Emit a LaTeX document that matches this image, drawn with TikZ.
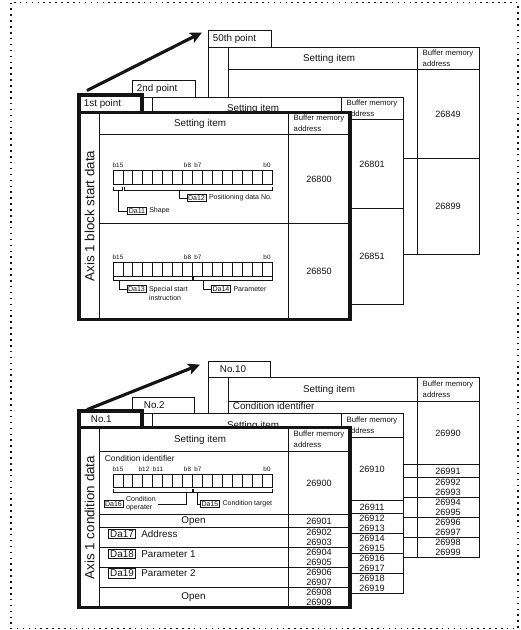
\documentclass[tikz,border=0pt]{standalone}
\usepackage{fontspec}
\setmainfont{Liberation Sans}
\usetikzlibrary{arrows.meta,positioning}
\definecolor{Ink}{HTML}{141414}
\definecolor{Paper}{HTML}{FFFFFF}
\tikzset{
  frame/.style={draw=Ink,fill=Paper,line width=0.7pt},
  heavy/.style={draw=Ink,fill=Paper,line width=2.8pt},
  bitline/.style={draw=Ink,line width=0.55pt},
  f7/.style={font=\fontsize{7}{8.4}\selectfont},
  f5/.style={font=\fontsize{5}{6.4}\selectfont},
  f45/.style={font=\fontsize{4.5}{5}\selectfont},
  hdr/.style={font=\fontsize{5.5}{7.5}\selectfont,align=left},
  num/.style={font=\fontsize{6.5}{7}\selectfont,align=center},
  axis/.style={font=\fontsize{9.5}{11}\selectfont,rotate=90},
  dabox/.style={draw=Ink,line width=0.6pt,f5,inner xsep=0.8pt,inner ysep=1pt},
  dabig/.style={draw=Ink,line width=0.8pt,f7,inner xsep=1.2pt,inner ysep=1pt},
  arw/.style={draw=Ink,line width=2.2pt,-{Stealth[length=8.5pt,width=8pt,inset=2pt]}},
  dotframe/.style={draw=Ink,line width=1.1pt,dash pattern=on 1.1pt off 3.1pt}
}
\begin{document}
\begin{tikzpicture}[x=0.25mm,y=-0.25mm,line width=0.7pt,color=Ink,every node/.style={f7,inner sep=1pt}]
\fill[Paper] (0,0) rectangle (520,630);
\draw[dotframe] (11,2.5) rectangle (518,628.5);
% block start data, back sheets
\foreach \dx/\dy/\nm/\tb/\ta/\tc in {129/-65/u50/50th point/26849/26899,53/-15/u2/2nd point/26801/26851}{
\begin{scope}[shift={({79+\dx},{112.5+\dy})}]
\draw[frame] (0,-17) rectangle (63,0);
\node[anchor=west] (\nm) at (3,-8.5) {\tb};
\draw[frame] (0,0) rectangle (271,207);
\draw (20,0) -- (20,207) (20,22) -- (271,22) (209,0) -- (209,207) (20,111) -- (271,111);
\node (\nm-h) at (121,11) {Setting item};
\node[hdr] (\nm-b) at (240,11) {Buffer memory\\address};
\node[num] (\nm-a) at (240,66.5) {\ta};
\node[num] (\nm-c) at (240,159) {\tc};
\end{scope}}
% block start data, front sheet
\draw[heavy] (79,95) rectangle (142,112.5);
\node[anchor=west] (u1) at (82,104) {1st point};
\draw[heavy] (79,112.5) rectangle (350,319.5);
\draw (99.5,112.5) -- (99.5,319.5) (99.5,134.5) -- (350,134.5) (288,112.5) -- (288,319.5) (99.5,223.5) -- (350,223.5);
\node[axis] (u1-ax) at (89.5,216) {Axis 1 block start data};
\node (u1-h) at (200,123.5) {Setting item};
\node[hdr] (u1-b) at (319,123.5) {Buffer memory\\address};
\node[num] (u1-a) at (319,179) {26800};
\node[num] (u1-c) at (319,271.5) {26850};
% condition data, back sheets
\foreach \dx/\dy/\nm/\tb/\base/\ci in {129/-50/l10/No.10/26990/Condition identifier,53/-14/l2/No.2/26910/}{
\begin{scope}[shift={({79+\dx},{427.5+\dy})}]
\draw[frame] (0,-16) rectangle (62,0);
\node[anchor=west] (\nm) at (10,-8) {\tb};
\draw[frame] (0,0) rectangle (271,180);
\draw (20,0) -- (20,180) (20,24) -- (271,24) (209,0) -- (209,180);
\foreach \yy in {87,100,120,140,160} \draw (20,\yy) -- (271,\yy);
\node (\nm-h) at (121,12) {Setting item};
\node[hdr] (\nm-b) at (240,12) {Buffer memory\\address};
\node[anchor=west] (\nm-i) at (23,28.5) {\ci};
\node[num] (\nm-a) at (240,55.5) {\base};
\node[num] (\nm-o) at (240,93.5) {\the\numexpr\base+1\relax};
\foreach \off/\yy in {2/110,4/130,6/150,8/170}{
  \node[num] (\nm-r\off) at (240,\yy) {\the\numexpr\base+\off\relax\\\the\numexpr\base+\off+1\relax};}
\end{scope}}
% condition data, front sheet
\draw[heavy] (79,411) rectangle (142,427.5);
\node[anchor=west] (l1) at (89,419.5) {No.1};
\draw[heavy] (79,427.5) rectangle (350,607.5);
\draw (99.5,427.5) -- (99.5,607.5) (99.5,451.5) -- (350,451.5) (288,427.5) -- (288,607.5);
\foreach \yy in {514.5,527.5,547.5,567.5,587.5} \draw (99.5,\yy) -- (350,\yy);
\node[axis] (l1-ax) at (89.5,517.5) {Axis 1 condition data};
\node (l1-h) at (200,439.5) {Setting item};
\node[hdr] (l1-b) at (319,439.5) {Buffer memory\\address};
\node[font=\fontsize{6}{7}\selectfont,anchor=west] (l1-i) at (103,458) {Condition identifier};
% bit fields
\foreach \y/\h in {170/14,262/14,474.5/12.5}{
  \draw[bitline] (113,\y) rectangle (272,{\y+\h});
  \foreach \i in {1,...,15} \draw[bitline] ({113+\i*9.9375},\y) -- ++(0,\h);}
\foreach \y/\bt in {165.5/u1,257.5/u2,469/l1}{
  \node[f45] (\bt-b15) at (118,\y) {b15};
  \node[f45] (\bt-b8) at (187.5,\y) {b8};
  \node[f45] (\bt-b7) at (198,\y) {b7};
  \node[f45] (\bt-b0) at (267,\y) {b0};}
\node[f45] (l1-b12) at (144,469) {b12};
\node[f45] (l1-b11) at (158,469) {b11};
\draw[bitline] (113,187) |- (122,190) -- (122,187) (124,187) |- (272,190) -- (272,187);
\draw[bitline] (113,277) |- (192,280) -- (192,277) (193,277) |- (272,280) -- (272,277);
\draw[bitline] (113,489) |- (192,492) -- (192,489) (193,489) |- (272,492) -- (272,489);
\node[dabox] (da11) at (137,211) {Da11};
\node[f5,right=0.5pt of da11] (shape) {Shape};
\node[dabox] (da12) at (196.5,198) {Da12};
\node[f5,right=0.5pt of da12] (posno) {Positioning data No.};
\node[dabox] (da13) at (136.5,289) {Da13};
\node[f5,align=left,anchor=north west] (spst) at ([xshift=0.5pt]da13.north east) {Special start\\instruction};
\node[dabox] (da14) at (221,289) {Da14};
\node[f5,right=0.5pt of da14] (param) {Parameter};
\node[dabox] (da16) at (113.5,504) {Da16};
\node[align=left,right=0.5pt of da16,font=\fontsize{5}{5.8}\selectfont] (cop) {Condition\\operater};
\node[dabox] (da15) at (210,504) {Da15};
\node[f5,right=0.5pt of da15] (ctg) {Condition target};
\coordinate (k11) at (118,190);
\coordinate (k12) at (179,190);
\coordinate (k13) at (119,280);
\coordinate (k14) at (203,280);
\coordinate (k16) at (186,492);
\coordinate (k15) at (197,492);
\draw[bitline] (k11) |- (da11);
\draw[bitline] (k12) |- (da12);
\draw[bitline] (k13) |- (da13);
\draw[bitline] (k14) |- (da14);
\draw[bitline] (k16) |- (cop);
\draw[bitline] (k15) |- (da15);
% condition rows
\node (l1-o1) at (193.5,521) {Open};
\node[dabig] (da17) at (122,534) {Da17};
\node[right=2.5pt of da17] (addr) {Address};
\node[dabig] (da18) at (122,554) {Da18};
\node[right=2.5pt of da18] (par1) {Parameter 1};
\node[dabig] (da19) at (122,573.5) {Da19};
\node[right=2.5pt of da19] (par2) {Parameter 2};
\node (l1-o2) at (193.5,597.5) {Open};
\node[num] (l1-a0) at (319,483) {26900};
\node[num] (l1-a1) at (319,521) {26901};
\node[num] (l1-a2) at (319,537.5) {26902\\26903};
\node[num] (l1-a4) at (319,557.5) {26904\\26905};
\node[num] (l1-a6) at (319,577.5) {26906\\26907};
\node[num] (l1-a8) at (319,597.5) {26908\\26909};
% arrows
\draw[arw] ([shift={(5,-7)}]u1.north west) -- ([shift={(-9,0)}]u50.north west);
\draw[arw] ([shift={(-2,-4.5)}]l1.north west) -- ([shift={(-18,0.5)}]l10.north west);
\end{tikzpicture}
\end{document}
